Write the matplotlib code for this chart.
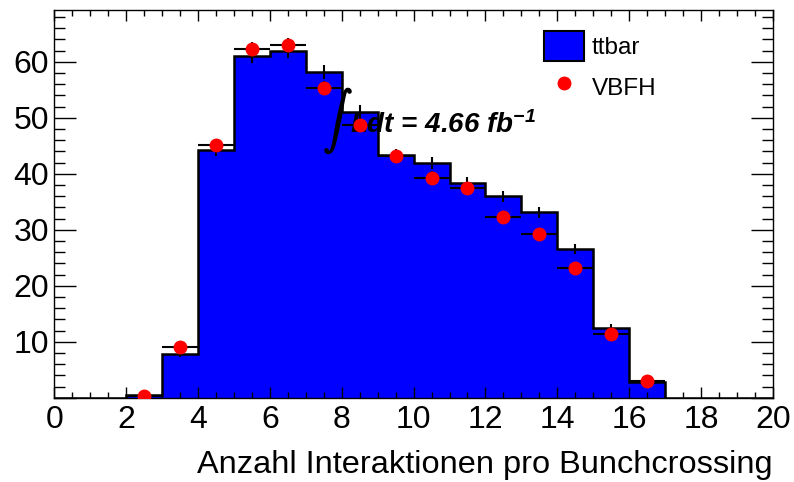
import numpy as np
import matplotlib
matplotlib.use("Agg")
import matplotlib.pyplot as plt
import matplotlib.patheffects as pe
from matplotlib.ticker import MultipleLocator, FixedLocator, FuncFormatter
from matplotlib.patches import Patch
from matplotlib.lines import Line2D

plt.rcParams['font.family'] = ['Liberation Sans', 'DejaVu Sans']
plt.rcParams['mathtext.fontset'] = 'custom'
plt.rcParams['mathtext.rm'] = 'Liberation Sans:bold:italic'
plt.rcParams['mathtext.it'] = 'Liberation Sans:bold:italic'

# bins 0..20, width 1
edges = np.arange(0, 21, 1)
ttbar = [0, 0, 0.5, 7.8, 44.2, 61.0, 61.9, 58.2, 51.1, 43.4,
         41.9, 38.4, 36.0, 33.1, 26.5, 12.5, 2.8, 0, 0, 0]
ttbar_err = [0, 0, 0.1, 0.5, 1.1, 1.3, 1.3, 1.3, 1.2, 1.1,
             1.1, 1.0, 1.0, 1.0, 0.9, 0.6, 0.3, 0, 0, 0]

vbfh_x = [2.5, 3.5, 4.5, 5.5, 6.5, 7.5, 8.5, 9.5, 10.5, 11.5, 12.5, 13.5, 14.5, 15.5, 16.5]
vbfh = [0.3, 9.1, 45.1, 62.3, 63.0, 55.4, 48.7, 43.2, 39.3, 37.4, 32.2, 29.3, 23.2, 11.4, 2.9]
vbfh_err = [0.1, 0.5, 1.1, 1.3, 1.3, 1.2, 1.2, 1.1, 1.1, 1.0, 1.0, 0.9, 0.8, 0.6, 0.3]

fig = plt.figure(figsize=(7.94, 4.82), dpi=100)
ax = fig.add_axes([0.0686, 0.1749, 0.9046, 0.8050])

ax.stairs(ttbar, edges, fill=True, color='#0000ff', zorder=1)
ax.stairs(ttbar, edges, color='black', lw=1.8, zorder=2)

centers = edges[:-1] + 0.5
mask = np.array(ttbar) > 0
ax.errorbar(centers[mask], np.array(ttbar)[mask], yerr=np.array(ttbar_err)[mask],
            fmt='none', ecolor='black', elinewidth=1.5, zorder=3)

# luminosity label
ax.text(7.9, 49.4, r'$\int$', fontsize=21, math_fontfamily='cm',
        ha='center', va='center', zorder=4,
        path_effects=[pe.withStroke(linewidth=1.2, foreground='black')])
ax.text(8.23, 47.3, r'Ldt = 4.66 fb$^{-1}$', fontsize=20, fontweight='bold',
        fontstyle='italic', ha='left', va='baseline', zorder=4)

ax.errorbar(vbfh_x, vbfh, xerr=0.5, yerr=vbfh_err, fmt='o', color='red',
            mec='red', ms=9, ecolor='black', elinewidth=1.5, capsize=0, zorder=5)

ax.set_xlim(0, 20)
ax.set_ylim(0, 69.3)

ax.xaxis.set_major_locator(MultipleLocator(2))
ax.xaxis.set_minor_locator(MultipleLocator(0.5))
ax.yaxis.set_major_locator(FixedLocator([0, 10, 20, 30, 40, 50, 60]))
ax.yaxis.set_minor_locator(MultipleLocator(2))
ax.yaxis.set_major_formatter(FuncFormatter(lambda v, p: '' if v == 0 else '%d' % v))

ax.tick_params(which='both', direction='in', top=True, right=True, width=1,
               labelsize=23)
ax.tick_params(axis='x', which='major', length=8, pad=5)
ax.tick_params(axis='x', which='minor', length=4)
ax.tick_params(axis='y', which='major', length=16, pad=4)
ax.tick_params(axis='y', which='minor', length=8)
for s in ax.spines.values():
    s.set_linewidth(1.0)

ax.set_xlabel('Anzahl Interaktionen pro Bunchcrossing', fontsize=23.4, loc='right')
ax.xaxis.set_label_coords(1.0, -0.194)
ax.xaxis.label.set_verticalalignment('baseline')

fs_leg = 17.5
fs_px = fs_leg * 100 / 72
handles = [Patch(facecolor='#0000ff', edgecolor='black', lw=1.5, label='ttbar'),
           Line2D([], [], ls='none', marker='o', ms=9, color='red', label='VBFH')]
ax.legend(handles=handles, loc='upper left', bbox_to_anchor=(544 / 794, (482 - 31) / 482),
          bbox_transform=fig.transFigure, frameon=False, fontsize=fs_leg,
          handlelength=40 / fs_px, handleheight=1.52, labelspacing=11 / fs_px,
          handletextpad=8 / fs_px, borderpad=0, borderaxespad=0)

fig.savefig('out.png', dpi=100)
